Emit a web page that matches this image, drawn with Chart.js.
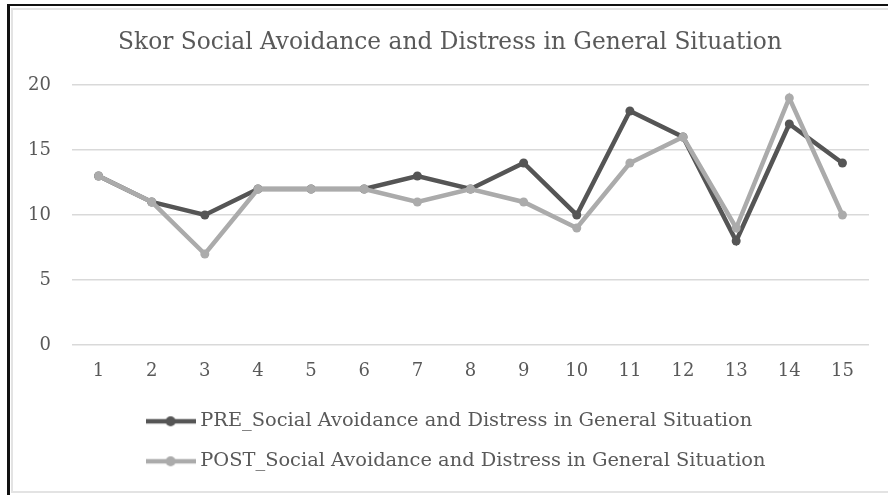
<!DOCTYPE html>
<html>
<head>
<meta charset="utf-8">
<script src="https://cdn.jsdelivr.net/npm/chart.js@4/dist/chart.umd.min.js"></script>
<style>
  html, body { margin: 0; padding: 0; background: #ffffff; }
  #wrap { position: relative; width: 888px; height: 495px; overflow: hidden; }
  #chart { position: absolute; left: 0; top: 0; }
  .frame-outer { position: absolute; left: 7px; top: 4px; width: 900px; height: 500px;
    border-top: 2px solid #111; border-left: 3px solid #111; pointer-events: none; }
  .frame-inner { position: absolute; left: 11px; top: 8px; width: 900px; height: 481px;
    border-top: 2px solid #e3e3e3; border-left: 2px solid #e3e3e3; border-bottom: 2px solid #e3e3e3; pointer-events: none; }
</style>
</head>
<body>
<div id="wrap">
  <canvas id="chart" width="888" height="495"></canvas>
  <div class="frame-outer"></div>
  <div class="frame-inner"></div>
</div>
<script>
// Respondent numbers along the x axis
const respondents = ['1','2','3','4','5','6','7','8','9','10','11','12','13','14','15'];
// Scores before and after
const preScores  = [13, 11, 10, 12, 12, 12, 13, 12, 14, 10, 18, 16, 8, 17, 14];
const postScores = [13, 11, 7, 12, 12, 12, 11, 12, 11, 9, 14, 16, 9, 19, 10];
const seriesLabels = [
  'PRE_Social Avoidance and Distress in General Situation',
  'POST_Social Avoidance and Distress in General Situation'
];
const chartTitle = 'Skor Social Avoidance and Distress in General Situation';
const yTicks = [0, 5, 10, 15, 20];

const FONT = "'DejaVu Serif', 'Liberation Serif', serif";
const TEXT = '#595959';
const PRE_COLOR = '#555555';
const POST_COLOR = '#ababab';
const LEGEND_FS = 19.4;

// small line-with-dot icon used as the legend marker
function legendIcon(color) {
  const c = document.createElement('canvas');
  c.width = 50; c.height = 12;
  const g = c.getContext('2d');
  g.strokeStyle = color; g.lineWidth = 4.5;
  g.beginPath(); g.moveTo(0, 6); g.lineTo(50, 6); g.stroke();
  g.fillStyle = color;
  g.beginPath(); g.arc(25, 6, 5, 0, Math.PI * 2); g.fill();
  return c;
}

// legend rows start under the left part of the plot; title centred on the frame
const blockOffsets = {
  id: 'blockOffsets',
  afterLayout(chart) {
    if (chart.legend) chart.legend.left = 130;
    if (chart.titleBlock) chart.titleBlock.left = 31;
  }
};

new Chart(document.getElementById('chart'), {
  type: 'line',
  data: {
    labels: respondents,
    datasets: [
      { label: seriesLabels[0], data: preScores, borderColor: PRE_COLOR, backgroundColor: PRE_COLOR,
        borderWidth: 4.5, pointRadius: 4.5, pointBorderWidth: 0, pointBackgroundColor: PRE_COLOR,
        tension: 0, order: 2 },
      { label: seriesLabels[1], data: postScores, borderColor: POST_COLOR, backgroundColor: POST_COLOR,
        borderWidth: 4.5, pointRadius: 4.5, pointBorderWidth: 0, pointBackgroundColor: POST_COLOR,
        tension: 0, order: 1 }
    ]
  },
  options: {
    responsive: false,
    animation: false,
    layout: { padding: { left: 0, right: 19, top: 0, bottom: 14 } },
    plugins: {
      tooltip: { enabled: false },
      title: {
        display: true, text: chartTitle, color: TEXT,
        font: { family: FONT, size: 23.3, weight: 'normal' },
        padding: { top: 29, bottom: 28 }
      },
      legend: {
        position: 'bottom', align: 'start',
        labels: {
          usePointStyle: true, pointStyleWidth: 40,
          padding: 40 - LEGEND_FS, color: TEXT,
          font: { family: FONT, size: LEGEND_FS },
          generateLabels(chart) {
            return chart.data.datasets.map((ds, i) => ({
              text: ds.label, fillStyle: ds.borderColor, strokeStyle: ds.borderColor,
              lineWidth: 0, pointStyle: legendIcon(ds.borderColor), datasetIndex: i,
              hidden: false, fontColor: TEXT
            }));
          }
        }
      }
    },
    scales: {
      x: {
        offset: true,
        grid: { display: false, drawTicks: false },
        border: { display: false },
        ticks: { color: TEXT, font: { family: FONT, size: 18 }, padding: 16, maxRotation: 0 },
        afterFit(scale) { scale.height = 46; }
      },
      y: {
        min: 0, max: 20,
        afterBuildTicks(scale) { scale.ticks = yTicks.map(v => ({ value: v })); },
        grid: { color: '#d9d9d9', lineWidth: 1.5, drawTicks: false },
        border: { display: false },
        ticks: { color: TEXT, font: { family: FONT, size: 18 }, padding: 21 },
        afterFit(scale) { scale.width = 72; }
      }
    }
  },
  plugins: [blockOffsets]
});
</script>
</body>
</html>
